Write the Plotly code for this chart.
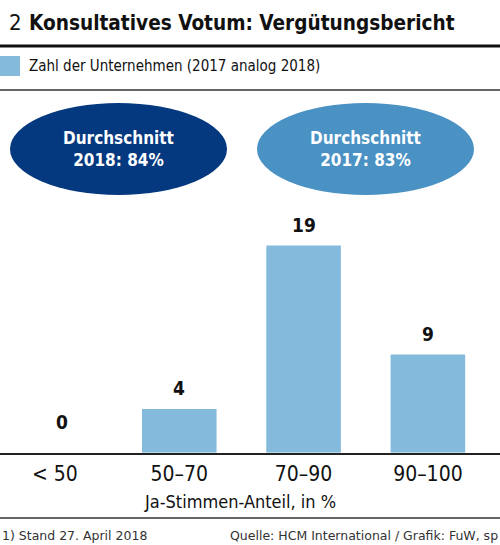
import plotly.graph_objects as go

# data
categories = ["< 50", "50–70", "70–90", "90–100"]
companies = [0, 4, 19, 9]
avg_labels = ["Durchschnitt<br>2018: 84%", "Durchschnitt<br>2017: 83%"]

W, H = 500, 545
NARROW = "DejaVu Sans Condensed, Liberation Sans Narrow, sans-serif"
FOOT = "DejaVu Sans, Verdana, sans-serif"
BAR_COLOR = "#84BADB"
ELLIPSE_COLORS = ["#04387F", "#4A91C4"]


def py(px):
    """pixel from top -> paper y"""
    return (H - px) / H


def pxx(px):
    return px / W


def label(x, y, text, size, family=NARROW, color="#111", xanchor="center", **kw):
    fig.add_annotation(x=x, y=y, xref="paper", yref="paper", text=text,
                       showarrow=False, xanchor=xanchor, yanchor="middle",
                       font=dict(family=family, size=size, color=color), **kw)


base_px = 452.7
top_px = 200
unit_px = 10.9

fig = go.Figure()
fig.add_trace(go.Bar(
    x=list(range(len(categories))),
    y=companies,
    width=0.6,
    marker=dict(color=BAR_COLOR, line=dict(width=0)),
    hoverinfo="skip",
    showlegend=False,
))

# value labels above the bars
for i, v in enumerate(companies):
    fig.add_annotation(
        x=i, y=v, xref="x", yref="y",
        text=f"<b>{v}</b>", showarrow=False,
        xanchor="center", yanchor="middle",
        yshift=31 if v == 0 else 21, xshift=7 if v == 0 else 0,
        font=dict(family=NARROW, size=19, color="#111"),
    )

# title
label(pxx(7), py(23), "2", 22, xanchor="left")
label(pxx(27), py(23), "<b>Konsultatives Votum: Vergütungsbericht</b>", 20.6, xanchor="left")
fig.add_shape(type="line", xref="paper", yref="paper", x0=0, x1=1, y0=py(46), y1=py(46),
              line=dict(color="#111", width=3))

# legend
fig.add_shape(type="rect", xref="paper", yref="paper", x0=0, x1=pxx(20), y0=py(56), y1=py(76),
              fillcolor=BAR_COLOR, line=dict(width=0))
label(pxx(27), py(66), "Zahl der Unternehmen (2017 analog 2018)", 15, xanchor="left")
fig.add_shape(type="line", xref="paper", yref="paper", x0=0, x1=1, y0=py(90), y1=py(90),
              line=dict(color="#333", width=1.5))

# average ellipses
for (x0, x1), col, lab in zip([(10, 227), (257, 474)], ELLIPSE_COLORS, avg_labels):
    fig.add_shape(type="circle", xref="paper", yref="paper",
                  x0=pxx(x0), x1=pxx(x1), y0=py(103), y1=py(195),
                  fillcolor=col, line=dict(width=0))
    label(pxx((x0 + x1) / 2), py(149), f"<b>{lab}</b>", 17, color="white")

# x axis title
label(pxx(240), py(502), "Ja-Stimmen-Anteil, in %", 18)

# footer
fig.add_shape(type="line", xref="paper", yref="paper", x0=0, x1=1, y0=py(518), y1=py(518),
              line=dict(color="#333", width=1.5))
label(0, py(535), "1) Stand 27. April 2018", 12.5, family=FOOT, color="#333", xanchor="left")
label(1, py(535), "Quelle: HCM International / Grafik: FuW, sp", 12.5, family=FOOT,
      color="#333", xanchor="right")

fig.update_layout(
    width=W, height=H,
    margin=dict(l=0, r=0, t=0, b=0),
    paper_bgcolor="white", plot_bgcolor="white",
    xaxis=dict(
        range=[-0.442, 3.58], domain=[0, 1],
        tickmode="array", tickvals=list(range(len(categories))), ticktext=categories,
        tickfont=dict(family=NARROW, size=21, color="#111"),
        showline=True, linecolor="#222", linewidth=2,
        showgrid=False, zeroline=False, ticks="", ticklabelstandoff=1,
    ),
    yaxis=dict(
        range=[0, (base_px - top_px) / unit_px], domain=[py(base_px), py(top_px)],
        visible=False, showgrid=False, zeroline=False,
    ),
)

fig.write_html("out.html", config={"displayModeBar": False},
               post_script="document.body.style.margin='0px';")
